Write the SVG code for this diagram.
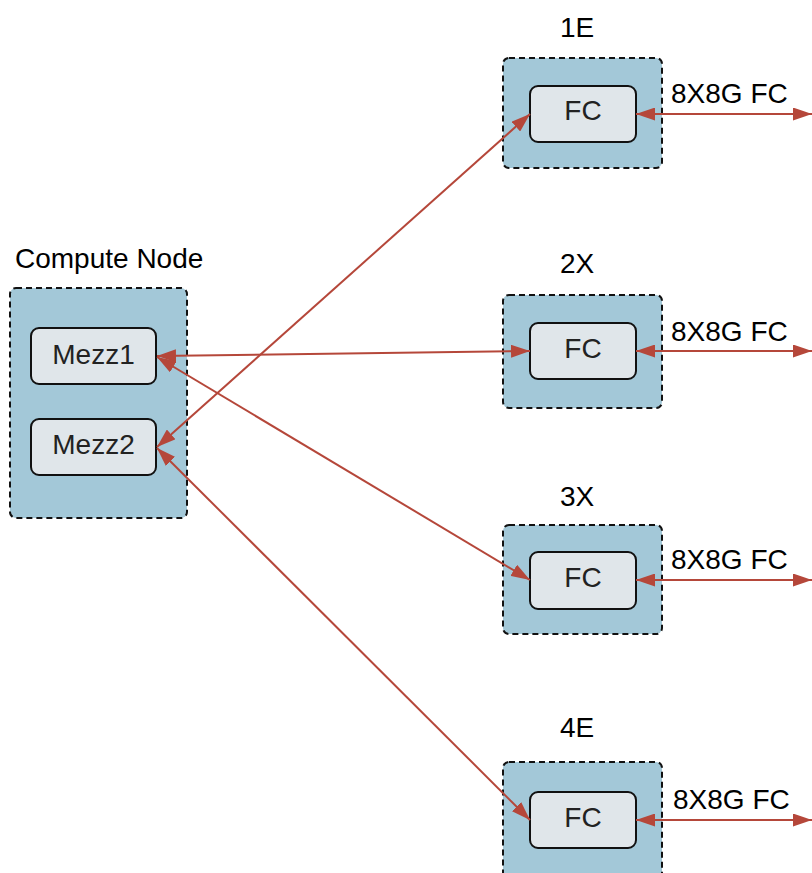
<svg xmlns="http://www.w3.org/2000/svg" width="812" height="873" viewBox="0 0 812 873">
  <style>
    .outer { fill: #a3c8d8; stroke: #111; stroke-width: 2; stroke-dasharray: 6 4; }
    .inner { fill: #e0e6ea; stroke: #111; stroke-width: 2; }
    .lbl { font-family: "Liberation Sans", Arial, sans-serif; font-size: 28px; fill: #000; }
    .in { font-family: "Liberation Sans", Arial, sans-serif; font-size: 28px; fill: #222; text-anchor: middle; }
    .mid { text-anchor: middle; }
    .conn { stroke: #b5473a; stroke-width: 2; fill: none; marker-start: url(#ah); marker-end: url(#ah); }
  </style>
  <defs>
    <marker id="ah" viewBox="0 0 19 13" refX="19" refY="6.5" markerWidth="19" markerHeight="13" markerUnits="userSpaceOnUse" orient="auto-start-reverse">
      <path d="M0,0 L19,6.5 L0,13 z" fill="#b5473a"/>
    </marker>
  </defs>
  <rect width="812" height="873" fill="#fff"/>

  <g id="compute-node">
    <text class="lbl" x="15" y="268">Compute Node</text>
    <rect class="outer" x="10" y="288" width="177" height="230" rx="6"/>
  </g>
  <g id="mezz1">
    <rect class="inner" x="31" y="328" width="125" height="56" rx="8"/>
    <text class="in" x="93.5" y="364">Mezz1</text>
  </g>
  <g id="mezz2">
    <rect class="inner" x="31" y="419" width="125" height="56" rx="8"/>
    <text class="in" x="93.5" y="454">Mezz2</text>
  </g>

  <g id="switch-1E">
    <text class="lbl mid" x="577" y="37">1E</text>
    <rect class="outer" x="503" y="58" width="159" height="110" rx="6"/>
    <rect class="inner" x="530" y="86" width="106" height="56" rx="8"/>
    <text class="in" x="583" y="120">FC</text>
    <text class="lbl" x="671" y="103">8X8G FC</text>
  </g>
  <g id="switch-2X">
    <text class="lbl mid" x="577" y="273">2X</text>
    <rect class="outer" x="503" y="295" width="159" height="113" rx="6"/>
    <rect class="inner" x="530" y="323" width="106" height="56" rx="8"/>
    <text class="in" x="583" y="358">FC</text>
    <text class="lbl" x="671" y="341">8X8G FC</text>
  </g>
  <g id="switch-3X">
    <text class="lbl mid" x="577" y="506">3X</text>
    <rect class="outer" x="503" y="525" width="159" height="109" rx="6"/>
    <rect class="inner" x="530" y="552" width="106" height="57" rx="8"/>
    <text class="in" x="583" y="587">FC</text>
    <text class="lbl" x="671" y="569">8X8G FC</text>
  </g>
  <g id="switch-4E">
    <text class="lbl mid" x="577" y="737">4E</text>
    <rect class="outer" x="503" y="762" width="159" height="120" rx="6"/>
    <rect class="inner" x="530" y="792" width="106" height="56" rx="8"/>
    <text class="in" x="583" y="827">FC</text>
    <text class="lbl" x="673" y="809">8X8G FC</text>
  </g>

  <g id="connectors">
    <line class="conn" x1="157" y1="447" x2="530" y2="114"/>
    <line class="conn" x1="157" y1="356" x2="530" y2="351"/>
    <line class="conn" x1="157" y1="357" x2="530" y2="580"/>
    <line class="conn" x1="157" y1="448" x2="530" y2="820"/>
    <line class="conn" x1="636" y1="114" x2="812" y2="114"/>
    <line class="conn" x1="636" y1="351" x2="812" y2="351"/>
    <line class="conn" x1="636" y1="580" x2="812" y2="580"/>
    <line class="conn" x1="636" y1="820" x2="812" y2="820"/>
  </g>
</svg>
